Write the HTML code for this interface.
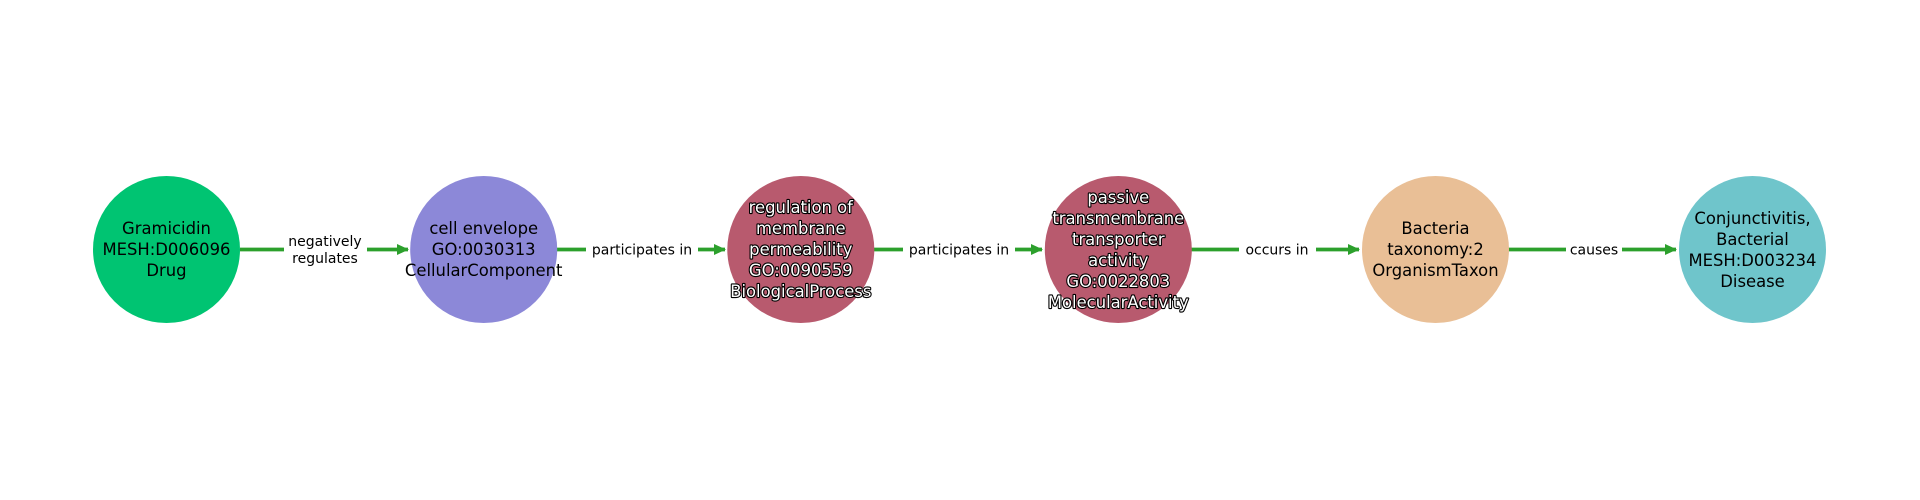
<!DOCTYPE html>
<html><head><meta charset="utf-8"><style>html,body{margin:0;padding:0;background:#fff}svg{display:block}</style></head>
<body>
<svg width="1920" height="500" viewBox="0 0 1920 500" xmlns="http://www.w3.org/2000/svg" font-family="'DejaVu Sans','Liberation Sans',sans-serif">
<defs>
<marker id="ah" markerWidth="14" markerHeight="14" refX="11" refY="7" orient="auto" markerUnits="userSpaceOnUse">
<path d="M0,1.5 L12,7 L0,12.5 Z" fill="#2ca02c"/>
</marker>
</defs>
<g stroke="#2ca02c" stroke-width="3.7" fill="none">
<line x1="240" y1="249.5" x2="408" y2="249.5" marker-end="url(#ah)"/>
<line x1="557" y1="249.5" x2="725" y2="249.5" marker-end="url(#ah)"/>
<line x1="874" y1="249.5" x2="1042" y2="249.5" marker-end="url(#ah)"/>
<line x1="1191" y1="249.5" x2="1359" y2="249.5" marker-end="url(#ah)"/>
<line x1="1508" y1="249.5" x2="1676" y2="249.5" marker-end="url(#ah)"/>
</g>
<g fill="#fff">
<rect x="284" y="230" width="83" height="40"/>
<rect x="586" y="238" width="112" height="22"/>
<rect x="903" y="238" width="112" height="22"/>
<rect x="1239" y="238" width="77" height="22"/>
<rect x="1566" y="238" width="56" height="22"/>
</g>
<g font-size="14" text-anchor="middle" fill="#000">
<text x="325" y="246">negatively</text>
<text x="325" y="263">regulates</text>
<text x="642" y="254.5">participates in</text>
<text x="959" y="254.5">participates in</text>
<text x="1277" y="254.5">occurs in</text>
<text x="1594" y="254.5">causes</text>
</g>
<circle cx="166.5" cy="249.5" r="73.5" fill="#00c472"/>
<circle cx="483.7" cy="249.5" r="73.5" fill="#8c88d8"/>
<circle cx="800.8" cy="249.5" r="73.5" fill="#b85a6e"/>
<circle cx="1118.3" cy="249.5" r="73.5" fill="#b85a6e"/>
<circle cx="1435.5" cy="249.5" r="73.5" fill="#e9bf96"/>
<circle cx="1752.5" cy="249.5" r="73.5" fill="#6fc5cb"/>
<g font-size="16.4" text-anchor="middle" fill="#000">
<text x="166.5" y="234">Gramicidin</text>
<text x="166.5" y="255">MESH:D006096</text>
<text x="166.5" y="276">Drug</text>
<text x="483.7" y="234">cell envelope</text>
<text x="483.7" y="255">GO:0030313</text>
<text x="483.7" y="276">CellularComponent</text>
<text x="1435.5" y="234">Bacteria</text>
<text x="1435.5" y="255">taxonomy:2</text>
<text x="1435.5" y="276">OrganismTaxon</text>
<text x="1752.5" y="224">Conjunctivitis,</text>
<text x="1752.5" y="245">Bacterial</text>
<text x="1752.5" y="266">MESH:D003234</text>
<text x="1752.5" y="287">Disease</text>
</g>
<g font-size="16.4" text-anchor="middle" fill="#fff" stroke="#000" stroke-width="2.2" paint-order="stroke" stroke-linejoin="round">
<text x="800.8" y="213">regulation of</text>
<text x="800.8" y="234">membrane</text>
<text x="800.8" y="255">permeability</text>
<text x="800.8" y="276">GO:0090559</text>
<text x="800.8" y="297">BiologicalProcess</text>
<text x="1118.3" y="203">passive</text>
<text x="1118.3" y="224">transmembrane</text>
<text x="1118.3" y="245">transporter</text>
<text x="1118.3" y="266">activity</text>
<text x="1118.3" y="287">GO:0022803</text>
<text x="1118.3" y="308">MolecularActivity</text>
</g>
</svg>
</body></html>
